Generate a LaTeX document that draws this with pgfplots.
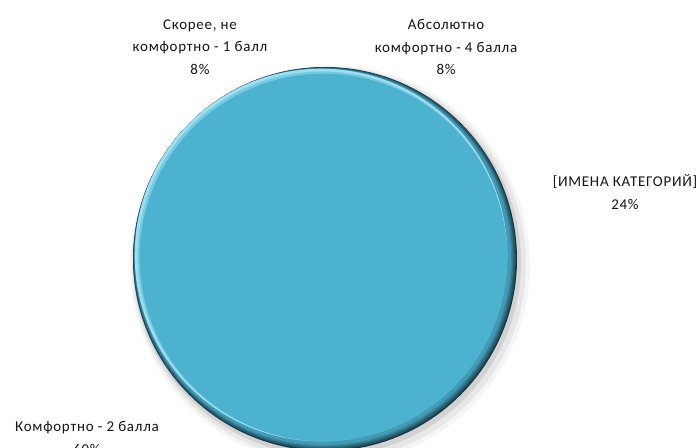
\documentclass[border=0pt]{standalone}
\usepackage{pgfplots}
\pgfplotsset{compat=1.18}
\usepackage{fontspec}
\setmainfont{Carlito}
\newfontfamily\lbl[LetterSpace=5]{Carlito}
\definecolor{pief}{RGB}{77,178,208}
\definecolor{piedark}{RGB}{22,55,68}
\definecolor{pielight}{RGB}{158,222,240}
\definecolor{pielight2}{RGB}{118,202,226}
\definecolor{txt}{RGB}{20,20,20}
\begin{document}
\begin{tikzpicture}
% slice values (percent), clockwise from 12 o'clock
\def\vA{8}  % Абсолютно комфортно - 4 балла
\def\vB{24} % [ИМЕНА КАТЕГОРИЙ]
\def\vC{60} % Комфортно - 2 балла
\def\vD{8}  % Скорее, не комфортно - 1 балл
\pgfmathsetmacro\aO{90}
\pgfmathsetmacro\aA{\aO-\vA*3.6}
\pgfmathsetmacro\aB{\aA-\vB*3.6}
\pgfmathsetmacro\aC{\aB-\vC*3.6}
\pgfmathsetmacro\aD{\aC-\vD*3.6}
\clip[use as bounding box] (0,0) rectangle (698bp,448bp);
\begin{axis}[
  at={(0,0)}, anchor=south west,
  width=698bp, height=448bp, scale only axis,
  xmin=0, xmax=698, ymin=0, ymax=448,
  axis lines=none, clip=false,
]
% soft shadow
\fill[black,opacity=0.04] (axis cs:330,183) circle[radius=200bp];
\fill[black,opacity=0.06] (axis cs:329,184) circle[radius=197bp];
\fill[black,opacity=0.09] (axis cs:327,186) circle[radius=194bp];
% bevel rim: dark gradient (bottom-right)
\fill[piedark] (axis cs:325,189) circle[radius=192bp];
\fill[pief!20!piedark] (axis cs:324.6,189.4) circle[radius=191.2bp];
\fill[pief!35!piedark] (axis cs:324.2,189.8) circle[radius=190.4bp];
\fill[pief!50!piedark] (axis cs:323.8,190.2) circle[radius=189.6bp];
\fill[pief!65!piedark] (axis cs:323.4,190.6) circle[radius=188.8bp];
\fill[pief!80!piedark] (axis cs:323.0,191.0) circle[radius=188.0bp];
% highlight (top-left)
\fill[pielight] (axis cs:321,193) circle[radius=186.3bp];
\fill[pielight2] (axis cs:322,192) circle[radius=184.5bp];
% slices (all same colour)
\tikzset{sl/.style={fill=pief, draw=pief, line width=0.6pt, line join=round}}
\path[sl] (axis cs:323.5,190.5) -- ++(\aO:183.5bp) arc[start angle=\aO, end angle=\aA, radius=183.5bp] -- cycle;
\path[sl] (axis cs:323.5,190.5) -- ++(\aA:183.5bp) arc[start angle=\aA, end angle=\aB, radius=183.5bp] -- cycle;
\path[sl] (axis cs:323.5,190.5) -- ++(\aB:183.5bp) arc[start angle=\aB, end angle=\aC, radius=183.5bp] -- cycle;
\path[sl] (axis cs:323.5,190.5) -- ++(\aC:183.5bp) arc[start angle=\aC, end angle=\aD, radius=183.5bp] -- cycle;
% labels
\tikzset{lab/.style={align=center, text=txt, font=\lbl\fontsize{15}{22.5}\selectfont, inner sep=0pt}}
\node[lab] at (axis cs:200,401) {Скорее, не\\комфортно - 1 балл\\8\%};
\node[lab] at (axis cs:446,401) {Абсолютно\\комфортно - 4 балла\\8\%};
\node[lab] at (axis cs:625,256) {[ИМЕНА КАТЕГОРИЙ]\\24\%};
\node[lab] at (axis cs:87,10) {Комфортно - 2 балла\\60\%};
\end{axis}
\end{tikzpicture}
\end{document}
